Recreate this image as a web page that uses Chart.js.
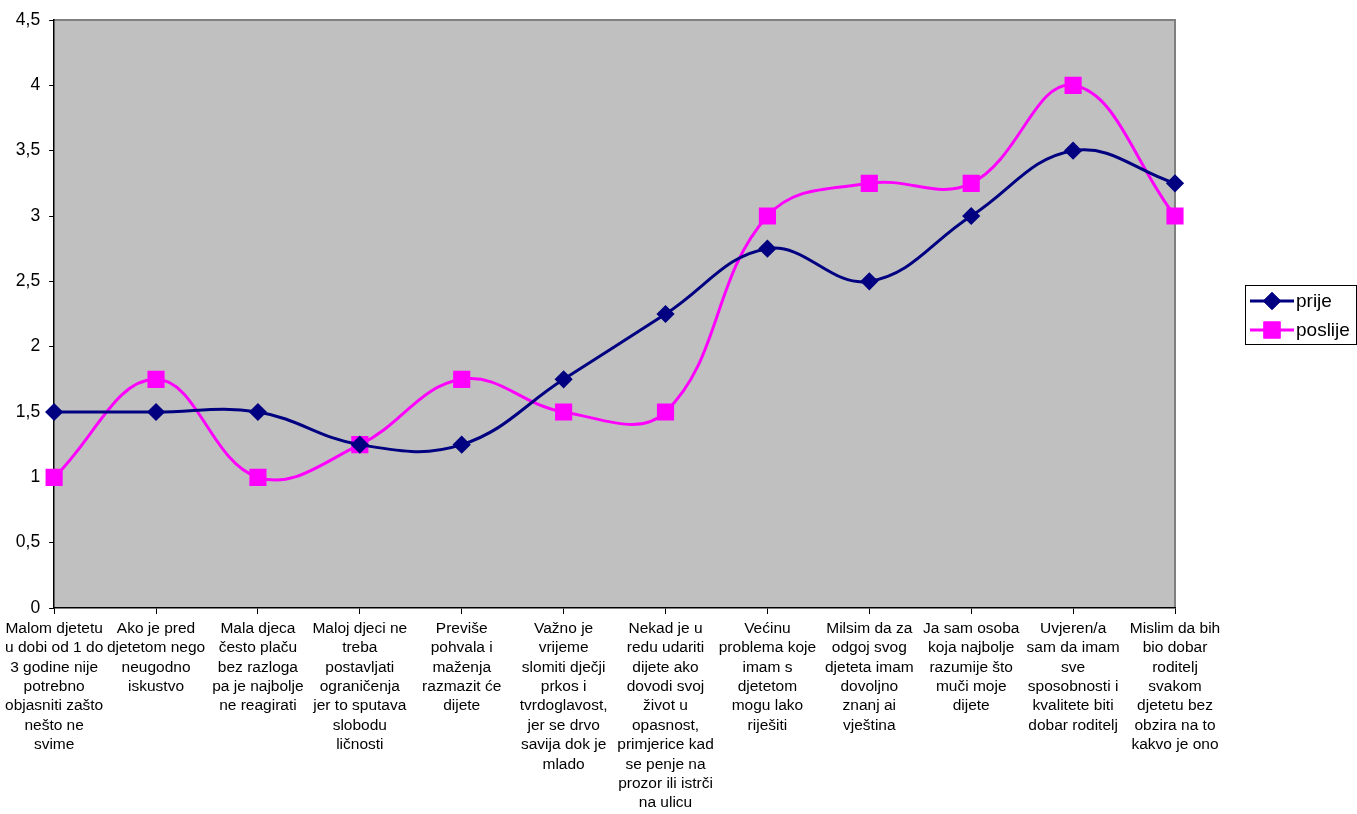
<!DOCTYPE html>
<html>
<head>
<meta charset="utf-8">
<script src="https://cdn.jsdelivr.net/npm/chart.js@4/dist/chart.umd.min.js"></script>
<style>
  html, body { margin: 0; padding: 0; background: #ffffff; }
  #wrap { width: 1357px; height: 814px; position: relative; }
</style>
</head>
<body>
<div id="wrap"><canvas id="chart"></canvas></div>
<script>
// Kategorije (tvrdnje), svaka razlomljena u retke kao na slici
const categories = [
    ['Malom djetetu', 'u dobi od 1 do', '3 godine nije', 'potrebno', 'objasniti zašto', 'nešto ne', 'svime'],
    ['Ako je pred', 'djetetom nego', 'neugodno', 'iskustvo'],
    ['Mala djeca', 'često plaču', 'bez razloga', 'pa je najbolje', 'ne reagirati'],
    ['Maloj djeci ne', 'treba', 'postavljati', 'ograničenja', 'jer to sputava', 'slobodu', 'ličnosti'],
    ['Previše', 'pohvala i', 'maženja', 'razmazit će', 'dijete'],
    ['Važno je', 'vrijeme', 'slomiti dječji', 'prkos i', 'tvrdoglavost,', 'jer se drvo', 'savija dok je', 'mlado'],
    ['Nekad je u', 'redu udariti', 'dijete ako', 'dovodi svoj', 'život u', 'opasnost,', 'primjerice kad', 'se penje na', 'prozor ili istrči', 'na ulicu'],
    ['Većinu', 'problema koje', 'imam s', 'djetetom', 'mogu lako', 'riješiti'],
    ['Milsim da za', 'odgoj svog', 'djeteta imam', 'dovoljno', 'znanj ai', 'vještina'],
    ['Ja sam osoba', 'koja najbolje', 'razumije što', 'muči moje', 'dijete'],
    ['Uvjeren/a', 'sam da imam', 'sve', 'sposobnosti i', 'kvalitete biti', 'dobar roditelj'],
    ['Mislim da bih', 'bio dobar', 'roditelj', 'svakom', 'djetetu bez', 'obzira na to', 'kakvo je ono']
];

// Vrijednosti serija
const prije = [1.5, 1.5, 1.5, 1.25, 1.25, 1.75, 2.25, 2.75, 2.5, 3, 3.5, 3.25];
const poslije = [1, 1.75, 1, 1.25, 1.75, 1.5, 1.5, 3, 3.25, 3.25, 4, 3];

// Os y
const yMin = 0;
const yMax = 4.5;
const yStep = 0.5;

const FONT = 'Liberation Sans, Arial, sans-serif';

// Siva pozadina područja crteža i rub gore/desno
const plotBackground = {
    id: 'plotBackground',
    beforeDraw(chart) {
        const { ctx, chartArea: a } = chart;
        ctx.save();
        ctx.fillStyle = '#c0c0c0';
        ctx.fillRect(a.left, a.top, a.right - a.left, a.bottom - a.top);
        ctx.strokeStyle = '#808080';
        ctx.lineWidth = 2;
        ctx.beginPath();
        ctx.moveTo(a.left, a.top);
        ctx.lineTo(a.right, a.top);
        ctx.lineTo(a.right, a.bottom);
        ctx.stroke();
        ctx.restore();
    }
};

// Legenda s crtom i oznakom, u okviru desno od grafikona
const boxLegend = {
    id: 'boxLegend',
    afterDraw(chart) {
        const { ctx, chartArea: a } = chart;
        const left = a.right + 70;
        const top = 285;
        const width = 111;
        const rowH = 29;
        ctx.save();
        ctx.fillStyle = '#ffffff';
        ctx.fillRect(left, top, width, rowH * 2 + 1);
        ctx.strokeStyle = '#000000';
        ctx.lineWidth = 1;
        ctx.strokeRect(left + 0.5, top + 0.5, width, rowH * 2 + 1);
        ctx.font = '19px ' + FONT;
        ctx.textBaseline = 'middle';
        chart.data.datasets.forEach((ds, i) => {
            const y = top + 16 + i * rowH;
            ctx.strokeStyle = ds.borderColor;
            ctx.lineWidth = 3;
            ctx.beginPath();
            ctx.moveTo(left + 5, y);
            ctx.lineTo(left + 49, y);
            ctx.stroke();
            Chart.helpers.drawPoint(ctx, {
                pointStyle: ds.pointStyle,
                radius: ds.pointRadius,
                borderWidth: 1
            }, left + 27, y);
            ctx.fillStyle = ds.pointBackgroundColor;
            ctx.strokeStyle = ds.pointBorderColor;
            ctx.fill();
            ctx.stroke();
            ctx.fillStyle = '#000000';
            ctx.fillText(ds.label, left + 51, y + 1);
        });
        ctx.restore();
    }
};

new Chart(document.getElementById('chart'), {
    type: 'line',
    data: {
        labels: categories,
        datasets: [{
            label: 'prije',
            data: prije,
            borderColor: '#000080',
            backgroundColor: '#000080',
            pointBackgroundColor: '#000080',
            pointBorderColor: '#000080',
            pointStyle: 'rectRot',
            pointRadius: 7,
            borderWidth: 3,
            tension: 0.4,
            fill: false
        }, {
            label: 'poslije',
            data: poslije,
            borderColor: '#ff00ff',
            backgroundColor: '#ff00ff',
            pointBackgroundColor: '#ff00ff',
            pointBorderColor: '#ff00ff',
            pointStyle: 'rect',
            pointRadius: 10,
            borderWidth: 3,
            tension: 0.4,
            fill: false
        }]
    },
    options: {
        responsive: true,
        maintainAspectRatio: false,
        animation: false,
        layout: {
            padding: { left: 0, top: 20, right: 182, bottom: 0 }
        },
        plugins: {
            legend: { display: false },
            title: { display: false },
            tooltip: { enabled: false }
        },
        scales: {
            x: {
                offset: false,
                border: { color: '#000000', width: 1.5 },
                grid: {
                    drawOnChartArea: false,
                    drawTicks: true,
                    tickLength: 6,
                    color: '#000000'
                },
                ticks: {
                    autoSkip: false,
                    maxRotation: 0,
                    minRotation: 0,
                    padding: 5,
                    color: '#000000',
                    font: { family: FONT, size: 15.5, lineHeight: 1.25 }
                },
                afterFit(scale) { scale.height = 206; }
            },
            y: {
                min: yMin,
                max: yMax,
                border: { color: '#000000', width: 1.5 },
                grid: {
                    drawOnChartArea: false,
                    drawTicks: true,
                    tickLength: 5,
                    color: '#000000'
                },
                ticks: {
                    stepSize: yStep,
                    padding: 9,
                    color: '#000000',
                    font: { family: FONT, size: 17.5 },
                    callback: (v) => String(v).replace('.', ',')
                },
                afterFit(scale) { scale.width = 53; }
            }
        }
    },
    plugins: [plotBackground, boxLegend]
});
</script>
</body>
</html>
